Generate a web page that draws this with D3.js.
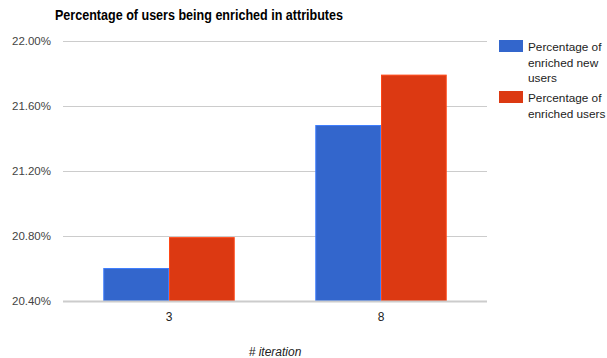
<!DOCTYPE html>
<html>
<head>
<meta charset="utf-8">
<script src="https://cdn.jsdelivr.net/npm/d3@7"></script>
<style>
  body { margin: 0; background: #fff; }
  svg { display: block; font-family: "Liberation Sans", Arial, sans-serif; }
</style>
</head>
<body>
<script>
(function(){

//data
var iterations = ["3", "8"];
var seriesNames = ["Percentage of enriched new users", "Percentage of enriched users"];
var newUsers = [20.60, 21.48];
var allUsers = [20.79, 21.79];
var yTicks = [20.4, 20.8, 21.2, 21.6, 22.0];
var seriesColors = ["#3366cc", "#dc3912"];

var width = 607,
    height = 358,
    left = 63,
    right = 487,
    top = 41,
    bottom = 301;

var svg = d3.select("body")
    .append("svg")
    .attr("width", width)
    .attr("height", height);

//scales
var x = d3.scaleBand()
    .domain(iterations)
    .range([left, right])
    .paddingInner(0.38)
    .paddingOuter(0.19);

var sub = d3.scaleBand()
    .domain([0, 1])
    .range([0, x.bandwidth()]);

var y = d3.scaleLinear()
    .domain([20.4, 22.0])
    .range([bottom, top]);

//title
svg.append("text")
    .attr("x", 55)
    .attr("y", 20)
    .attr("textLength", 288)
    .attr("lengthAdjust", "spacingAndGlyphs")
    .style("font-weight", "bold")
    .style("font-size", "14px")
    .style("fill", "#000")
    .text("Percentage of users being enriched in attributes");

//gridlines + y labels
var yAxis = svg.append("g")
    .attr("transform", "translate(" + left + ",0)")
    .call(d3.axisLeft(y)
        .tickValues(yTicks)
        .tickSize(-(right - left))
        .tickPadding(12)
        .tickFormat(function(d){ return d3.format(".2f")(d) + "%"; }));
yAxis.select(".domain").remove();
yAxis.selectAll("line").attr("stroke", "#cccccc");
yAxis.selectAll("text")
    .style("font-size", "11.5px")
    .style("fill", "#444")
    .style("font-family", "Liberation Sans, Arial, sans-serif");

//bars
var rows = iterations.map(function(k, i){
    return { key: k, values: [newUsers[i], allUsers[i]] };
});

var groups = svg.selectAll(".group")
    .data(rows)
    .enter()
    .append("g")
    .attr("class", "group")
    .attr("transform", function(d){ return "translate(" + x(d.key) + ",0)"; });

groups.selectAll("rect")
    .data(function(d){ return d.values.map(function(v, j){ return { s: j, v: v }; }); })
    .enter()
    .append("rect")
    .attr("x", function(d){ return sub(d.s) + 0.5; })
    .attr("width", sub.bandwidth() - 1)
    .attr("y", function(d){ return y(d.v); })
    .attr("height", function(d){ return bottom - y(d.v); })
    .style("fill", function(d){ return seriesColors[d.s]; })
    .style("stroke", function(d){ return d3.color(seriesColors[d.s]).brighter(0.6); })
    .style("stroke-width", 1);

//baseline
svg.append("line")
    .attr("x1", left)
    .attr("x2", right)
    .attr("y1", bottom + 0.5)
    .attr("y2", bottom + 0.5)
    .attr("stroke", "#cccccc")
    .attr("stroke-width", 2);

//x labels
var xAxis = svg.append("g")
    .attr("transform", "translate(0," + bottom + ")")
    .call(d3.axisBottom(x).tickSize(0).tickPadding(11));
xAxis.select(".domain").remove();
xAxis.selectAll("text")
    .style("font-size", "12px")
    .style("fill", "#222")
    .style("font-family", "Liberation Sans, Arial, sans-serif");

//x axis title
svg.append("text")
    .attr("x", (left + right) / 2)
    .attr("y", 356)
    .attr("text-anchor", "middle")
    .style("font-style", "italic")
    .style("font-size", "12px")
    .style("fill", "#222")
    .text("# iteration");

//legend
var legendLines = [
    ["Percentage of", "enriched new", "users"],
    ["Percentage of", "enriched users"]
];
var legendTop = [40, 91];

var legend = svg.selectAll(".legend")
    .data(seriesNames)
    .enter()
    .append("g")
    .attr("class", "legend")
    .attr("transform", function(d, i){ return "translate(499," + legendTop[i] + ")"; });

legend.append("rect")
    .attr("width", 24)
    .attr("height", 12)
    .style("fill", function(d, i){ return seriesColors[i]; });

legend.append("text")
    .style("font-size", "11.8px")
    .style("fill", "#222")
    .selectAll("tspan")
    .data(function(d, i){ return legendLines[i]; })
    .enter()
    .append("tspan")
    .attr("x", 29)
    .attr("y", function(d, j){ return 11 + j * 15.5; })
    .text(function(d){ return d; });

})();
</script>
</body>
</html>
